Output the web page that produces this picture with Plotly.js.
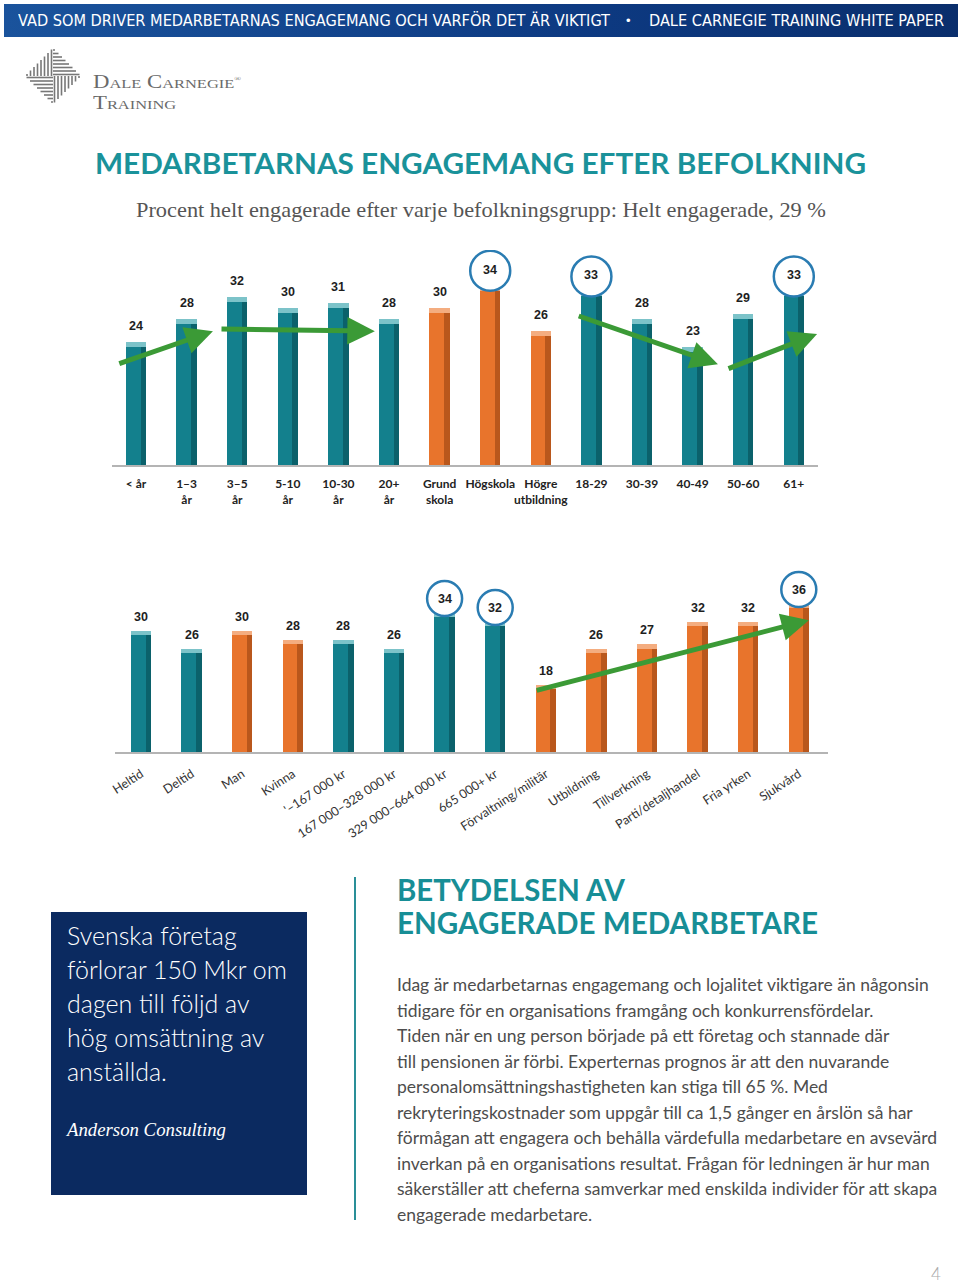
<!DOCTYPE html>
<html>
<head>
<meta charset="utf-8">
<script src="https://cdn.plot.ly/plotly-3.0.1.min.js"></script>
<style>
  html, body { margin:0; padding:0; background:#fff; }
  #page { position:relative; width:960px; height:1283px; overflow:hidden; background:#fff; }
  #chart { position:absolute; left:0; top:0; width:960px; height:1283px; }
  .t { position:absolute; white-space:nowrap; display:inline-block; }
  .fit { transform-origin: 0 50%; }
</style>
</head>
<body>
<div id="page">
  <div id="chart"></div>

  <div style="position:absolute;left:4px;top:4px;width:954px;height:33px;background:linear-gradient(to right,#1a539c,#0d3a82 60%,#0a2e6c);"></div>
  <div class="t fit" id="hdr1" style="left:18px;top:10px;line-height:22px;font-family:'Liberation Sans Narrow','DejaVu Sans Condensed',sans-serif;font-size:16px;color:#fff;">VAD SOM DRIVER MEDARBETARNAS ENGAGEMANG OCH VARFÖR DET ÄR VIKTIGT</div>
  <div class="t" style="left:626px;top:10px;line-height:22px;font-family:'Liberation Sans',sans-serif;font-size:13px;color:#fff;">•</div>
  <div class="t fit" id="hdr2" style="left:649px;top:10px;line-height:22px;font-family:'Liberation Sans Narrow','DejaVu Sans Condensed',sans-serif;font-size:16px;color:#fff;">DALE CARNEGIE TRAINING WHITE PAPER</div>

  <svg id="logo" style="position:absolute;left:0;top:0;" width="120" height="120"></svg>
  <div class="t" id="logo1" style="left:93px;top:69px;line-height:21px;font-family:'Liberation Serif',serif;font-size:18px;color:#6a6a6a;font-variant:small-caps;transform-origin:0 0;">Dale Carnegie<span style="font-size:7px;vertical-align:7px;">®</span><br>Training</div>

  <div class="t fit" id="title" style="left:95px;top:146px;line-height:34px;font-family:Lato,'Noto Sans',sans-serif;font-weight:700;font-size:29px;color:#1a929a;">MEDARBETARNAS ENGAGEMANG EFTER BEFOLKNING</div>
  <div class="t fit" id="sub" style="left:136px;top:197px;line-height:26px;font-family:'Liberation Serif','DejaVu Serif',serif;font-size:21px;color:#555;">Procent helt engagerade efter varje befolkningsgrupp: Helt engagerade, 29 %</div>

  <div style="position:absolute;left:51px;top:912px;width:256px;height:283px;background:#0b2a60;"></div>
  <div id="quote" style="position:absolute;left:67px;top:918px;font-family:Lato,'Noto Sans',sans-serif;font-weight:300;font-size:26px;line-height:34px;color:#fff;white-space:nowrap;">
    <div>Svenska företag</div>
    <div id="q2">förlorar 150 Mkr om</div>
    <div>dagen till följd av</div>
    <div>hög omsättning av</div>
    <div>anställda.</div>
  </div>
  <div class="t fit" id="anders" style="left:67px;top:1119px;line-height:22px;font-family:'Liberation Serif','DejaVu Serif',serif;font-style:italic;font-size:19px;color:#fff;">Anderson Consulting</div>

  <div style="position:absolute;left:354px;top:877px;width:2px;height:343px;background:#2a8f98;"></div>

  <div class="t fit" id="h1" style="left:397px;top:872px;line-height:34px;font-family:Lato,'Noto Sans',sans-serif;font-weight:700;font-size:30px;color:#178e96;">BETYDELSEN AV</div>
  <div class="t fit" id="h2" style="left:397px;top:905px;line-height:34px;font-family:Lato,'Noto Sans',sans-serif;font-weight:700;font-size:30px;color:#178e96;">ENGAGERADE MEDARBETARE</div>

  <div id="body" style="position:absolute;left:397px;top:972px;font-family:Lato,'Noto Sans',sans-serif;font-weight:400;font-size:16px;line-height:25.5px;color:#4d4d4d;white-space:nowrap;">
    <div><span id="b1">Idag är medarbetarnas engagemang och lojalitet viktigare än någonsin</span></div>
    <div>tidigare för en organisations framgång och konkurrensfördelar.</div>
    <div>Tiden när en ung person började på ett företag och stannade där</div>
    <div>till pensionen är förbi. Experternas prognos är att den nuvarande</div>
    <div>personalomsättningshastigheten kan stiga till 65 %. Med</div>
    <div>rekryteringskostnader som uppgår till ca 1,5 gånger en årslön så har</div>
    <div>förmågan att engagera och behålla värdefulla medarbetare en avsevärd</div>
    <div>inverkan på en organisations resultat. Frågan för ledningen är hur man</div>
    <div>säkerställer att cheferna samverkar med enskilda individer för att skapa</div>
    <div>engagerade medarbetare.</div>
  </div>

  <div class="t" style="left:931px;top:1264px;line-height:20px;font-family:Lato,sans-serif;font-weight:300;font-size:17px;color:#aaa;">4</div>
</div>

<script>
// ---------- DATA ----------
const categories1 = ['< år', '1–3<br>år', '3–5<br>år', '5-10<br>år', '10-30<br>år', '20+<br>år',
  'Grund<br>skola', 'Högskola', 'Högre<br>utbildning', '18-29', '30-39', '40-49', '50-60', '61+'];
const values1 = [24, 28, 32, 30, 31, 28, 30, 34, 26, 33, 28, 23, 29, 33];
const groups1 = ['tenure', 'tenure', 'tenure', 'tenure', 'tenure', 'tenure',
  'education', 'education', 'education', 'age', 'age', 'age', 'age', 'age'];
const highlighted1 = ['Högskola', '18-29', '61+'];

const categories2 = ['Heltid', 'Deltid', 'Man', 'Kvinna', "'–167 000 kr", '167 000–328 000 kr',
  '329 000–664 000 kr', '665 000+ kr', 'Förvaltning/militär', 'Utbildning', 'Tillverkning',
  'Parti/detaljhandel', 'Fria yrken', 'Sjukvård'];
const values2 = [30, 26, 30, 28, 28, 26, 34, 32, 18, 26, 27, 32, 32, 36];
const groups2 = ['employment', 'employment', 'gender', 'gender', 'income', 'income', 'income', 'income',
  'industry', 'industry', 'industry', 'industry', 'industry', 'industry'];
const highlighted2 = ['329 000–664 000 kr', '665 000+ kr', 'Sjukvård'];

// ---------- STYLE ----------
const groupPalette = {
  tenure: 'teal', age: 'teal', employment: 'teal', income: 'teal',
  education: 'orange', gender: 'orange', industry: 'orange'
};
const tones = {
  teal:   { main: '#13808d', dark: '#0a5760', cap: '#7cc3c9' },
  orange: { main: '#e8742c', dark: '#a94d17', cap: '#f4ad80' }
};

function barTraces(cats, vals, groups, xa, ya, capH) {
  const idx = cats.map((_, i) => i);
  const tone = groups.map(g => tones[groupPalette[g]]);
  const W = 0.4;
  return [
    { type: 'bar', x: idx, y: vals, width: W, offset: -W / 2, xaxis: xa, yaxis: ya,
      marker: { color: tone.map(t => t.main), line: { width: 0 } }, hoverinfo: 'skip' },
    { type: 'bar', x: idx, y: vals, width: 0.11, offset: 0.09, xaxis: xa, yaxis: ya,
      marker: { color: tone.map(t => t.dark), opacity: 0.75, line: { width: 0 } }, hoverinfo: 'skip' },
    { type: 'bar', x: idx, y: vals.map(() => capH), base: vals.map(v => v - capH), width: W, offset: -W / 2,
      xaxis: xa, yaxis: ya, marker: { color: tone.map(t => t.cap), line: { width: 0 } }, hoverinfo: 'skip' }
  ];
}

const data = [
  ...barTraces(categories1, values1, groups1, 'x', 'y', 0.9),
  ...barTraces(categories2, values2, groups2, 'x2', 'y2', 1.1)
];

function valueLabels(cats, vals, xr, yr, shift) {
  return cats.map((c, i) => ({
    xref: xr, yref: yr, x: i, y: vals[i], yshift: shift, text: String(vals[i]), showarrow: false,
    font: { family: 'Liberation Sans, Arial, sans-serif', size: 12.5, color: '#1e1e1e', weight: 700 }
  }));
}
function circles(cats, vals, hl, xr, yr, shift, r) {
  return cats.map((c, i) => hl.includes(c) ? ({
    type: 'circle', xref: xr, yref: yr, xsizemode: 'pixel', ysizemode: 'pixel',
    xanchor: i, yanchor: vals[i], x0: -r, x1: r, y0: shift - r, y1: shift + r,
    fillcolor: '#ffffff', line: { color: '#2a7cb2', width: 2.5 }, layer: 'above'
  }) : null).filter(Boolean);
}
const green = '#3b9a36';
function arrow(xr, yr, ax, ay, x, y) {
  return { xref: xr, yref: yr, axref: xr, ayref: yr, x: x, y: y, ax: ax, ay: ay, text: '',
    showarrow: true, arrowhead: 2, arrowsize: 1.1, arrowwidth: 5, arrowcolor: green, standoff: 0 };
}

const H = 1283, Wd = 960;
const layout = {
  width: Wd, height: H, margin: { l: 0, r: 0, t: 0, b: 0 },
  paper_bgcolor: 'rgba(0,0,0,0)', plot_bgcolor: 'rgba(0,0,0,0)',
  showlegend: false, barmode: 'overlay', bargap: 0,
  xaxis: {
    domain: [112 / Wd, 818 / Wd], range: [-0.4743, 13.478], anchor: 'y',
    tickmode: 'array', tickvals: categories1.map((_, i) => i), ticktext: categories1, tickangle: 0,
    showgrid: false, zeroline: false, showline: true, linecolor: '#b4b4b4', linewidth: 2,
    ticks: '', ticklabelstandoff: 7,
    tickfont: { family: 'Lato, Liberation Sans, sans-serif', size: 12, color: '#222', weight: 700 },
    fixedrange: true
  },
  yaxis: {
    domain: [1 - 465 / H, 1 - 250 / H], range: [2, 2 + 215 / 5.6], anchor: 'x',
    visible: false, fixedrange: true
  },
  xaxis2: {
    domain: [115 / Wd, 828 / Wd], range: [-0.5138, 13.577], anchor: 'y2',
    tickmode: 'array', tickvals: categories2.map((_, i) => i), ticktext: categories2, tickangle: -33,
    showgrid: false, zeroline: false, showline: true, linecolor: '#b4b4b4', linewidth: 2,
    ticks: '', ticklabelstandoff: 8,
    tickfont: { family: 'Lato, Liberation Sans, sans-serif', size: 12.5, color: '#333' },
    fixedrange: true
  },
  yaxis2: {
    domain: [1 - 752 / H, 1 - 570 / H], range: [3, 3 + 182 / 4.5], anchor: 'x2',
    visible: false, fixedrange: true
  },
  shapes: [
    ...circles(categories1, values1, highlighted1, 'x', 'y', 15, 20),
    ...circles(categories2, values2, highlighted2, 'x2', 'y2', 14, 17.5)
  ],
  annotations: [
    ...valueLabels(categories1, values1, 'x', 'y', 16),
    ...valueLabels(categories2, values2, 'x2', 'y2', 14),
    arrow('x', 'y', -0.36, 20.0, 1.52, 25.9),
    arrow('x', 'y', 1.66, 26.3, 4.72, 25.9),
    arrow('x', 'y', 8.72, 28.7, 11.5, 20.0),
    arrow('x', 'y', 11.68, 19.1, 13.46, 25.4),
    arrow('x2', 'y2', 7.79, 16.6, 13.2, 32.3)
  ]
};

Plotly.newPlot('chart', data, layout, { staticPlot: true, displayModeBar: false });

// ---------- logo ----------
(function () {
  const svg = document.getElementById('logo');
  const cx = 53, cy = 76, s = 28, step = 3.5, col = '#777';
  let out = '';
  for (let d = 1.5; d < s; d += step) {
    out += `<line x1="${cx - d}" y1="${cy - (s - d)}" x2="${cx - d}" y2="${cy}" stroke="${col}" stroke-width="1.6"/>`;
    out += `<line x1="${cx + d}" y1="${cy}" x2="${cx + d}" y2="${cy + (s - d)}" stroke="${col}" stroke-width="1.6"/>`;
    out += `<line x1="${cx}" y1="${cy - d}" x2="${cx + (s - d)}" y2="${cy - d}" stroke="${col}" stroke-width="1.6"/>`;
    out += `<line x1="${cx - (s - d)}" y1="${cy + d}" x2="${cx}" y2="${cy + d}" stroke="${col}" stroke-width="1.6"/>`;
  }
  svg.innerHTML = out;
})();

// ---------- text fitting ----------
function fitX(id, w) {
  const el = document.getElementById(id);
  el.style.transform = 'none';
  const r = el.getBoundingClientRect().width;
  if (r > 0) el.style.transform = 'scaleX(' + (w / r) + ')';
}
function fitFont(refId, w, containerId) {
  const ref = document.getElementById(refId);
  const c = document.getElementById(containerId);
  const r = ref.getBoundingClientRect().width;
  const fs = parseFloat(getComputedStyle(c).fontSize);
  if (r > 0) c.style.fontSize = (fs * w / r) + 'px';
}
function doFit() {
  fitX('hdr1', 592);
  fitX('hdr2', 295);
  fitX('logo1', 148);
  fitX('title', 771);
  fitX('sub', 690);
  fitX('anders', 159);
  fitX('h2', 421);
  fitX('h1', 228);
  fitFont('b1', 532, 'body');
  const q = document.getElementById('q2');
  q.style.display = 'inline-block';
  fitFont('q2', 220, 'quote');
}
doFit();
</script>
</body>
</html>
